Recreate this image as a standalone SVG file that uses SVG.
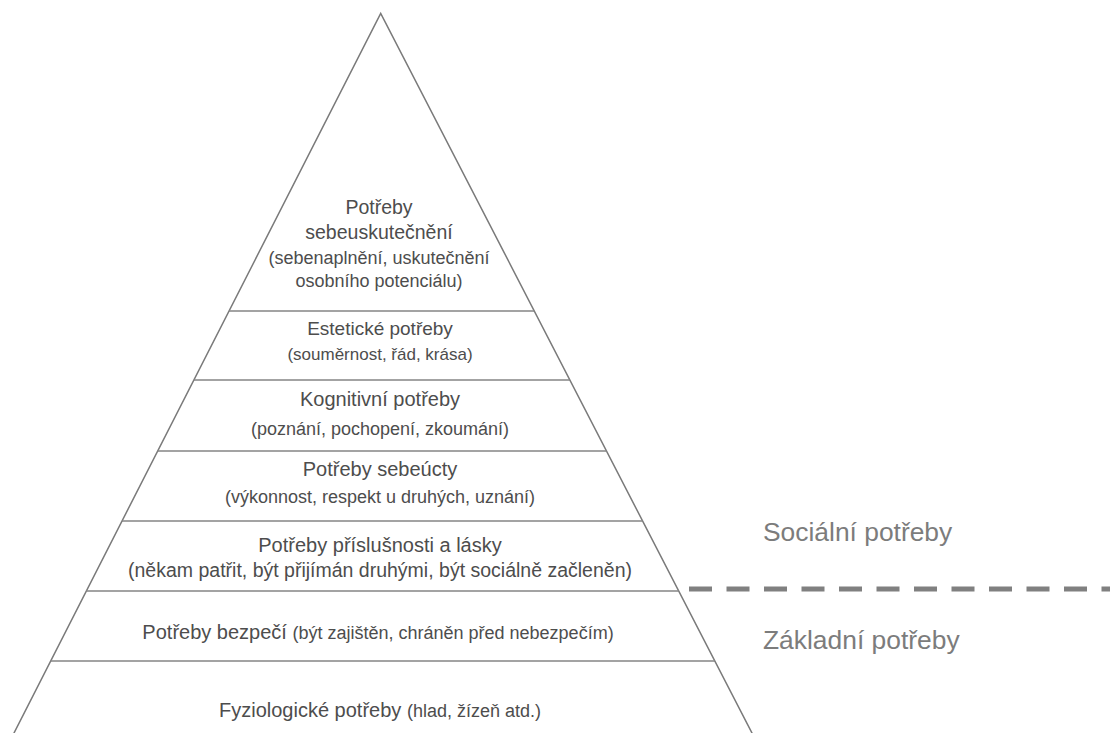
<svg xmlns="http://www.w3.org/2000/svg" width="1110" height="733" viewBox="0 0 1110 733">
  <style>
    .edge { fill: none; stroke: #7a7a7a; stroke-width: 1.5; }
    .tier { stroke: #858585; stroke-width: 1.5; }
    .head { font-family: "Liberation Sans", Arial, sans-serif; font-size: 20px; fill: #4d4d4d; text-anchor: middle; }
    .sub { font-family: "Liberation Sans", Arial, sans-serif; font-size: 18px; fill: #4d4d4d; }
    .subline { font-family: "Liberation Sans", Arial, sans-serif; font-size: 18px; fill: #4d4d4d; text-anchor: middle; }
    .side { font-family: "Liberation Sans", Arial, sans-serif; font-size: 26.4px; fill: #7c7c7c; }
    .divider { stroke: #808080; stroke-width: 5; stroke-dasharray: 23 14.5; }
  </style>
  <rect width="1110" height="733" fill="#ffffff"/>

  <!-- pyramid outline and tier boundaries -->
  <g id="outline">
    <polyline class="edge" points="13,735 380.7,13.3 753,735"/>
    <line class="tier" x1="229" y1="311" x2="534" y2="311"/>
    <line class="tier" x1="194" y1="380" x2="570" y2="380"/>
    <line class="tier" x1="158" y1="451" x2="607" y2="451"/>
    <line class="tier" x1="122" y1="521" x2="643" y2="521"/>
    <line class="tier" x1="86" y1="591" x2="679" y2="591"/>
    <line class="tier" x1="51" y1="661" x2="715" y2="661"/>
  </g>

  <g id="self-actualization">
    <text class="head" x="379" y="214" style="font-size:19.5px">Potřeby</text>
    <text class="head" x="379" y="239" style="font-size:19.5px">sebeuskutečnění</text>
    <text class="subline" x="379" y="264">(sebenaplnění, uskutečnění</text>
    <text class="subline" x="379" y="287">osobního potenciálu)</text>
  </g>

  <g id="aesthetic">
    <text class="head" x="380" y="335" style="font-size:19px">Estetické potřeby</text>
    <text class="subline" x="380" y="360" style="font-size:17px">(souměrnost, řád, krása)</text>
  </g>

  <g id="cognitive">
    <text class="head" x="380" y="406">Kognitivní potřeby</text>
    <text class="subline" x="380" y="435">(poznání, pochopení, zkoumání)</text>
  </g>

  <g id="esteem">
    <text class="head" x="380" y="476">Potřeby sebeúcty</text>
    <text class="subline" x="380" y="503">(výkonnost, respekt u druhých, uznání)</text>
  </g>

  <g id="belonging">
    <text class="head" x="380" y="552">Potřeby příslušnosti a lásky</text>
    <text class="subline" x="380" y="577" style="font-size:19.5px">(někam patřit, být přijímán druhými, být sociálně začleněn)</text>
  </g>

  <g id="safety">
    <text class="head" x="378" y="639">Potřeby bezpečí <tspan class="sub">(být zajištěn, chráněn před nebezpečím)</tspan></text>
  </g>

  <g id="physiological">
    <text class="head" x="380" y="717">Fyziologické potřeby <tspan class="sub">(hlad, žízeň atd.)</tspan></text>
  </g>

  <!-- split between social and basic needs -->
  <g id="connectors">
    <line class="divider" x1="689" y1="589" x2="1110" y2="589"/>
  </g>

  <g id="label-social">
    <text class="side" x="763" y="541">Sociální potřeby</text>
  </g>
  <g id="label-basic">
    <text class="side" x="763" y="649">Základní potřeby</text>
  </g>
</svg>
